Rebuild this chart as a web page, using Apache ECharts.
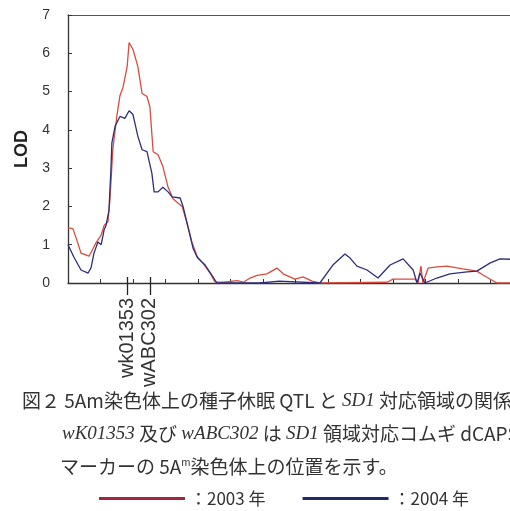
<!DOCTYPE html>
<html><head><meta charset="utf-8">
<script src="https://cdn.jsdelivr.net/npm/echarts@6/dist/echarts.min.js"></script>
<style>html,body{margin:0;padding:0;background:#fff}#c{width:510px;height:511px}</style>
</head><body><div id="c"></div>
<script>
// LOD curves (x = map position, arbitrary cM units)
const redX = [0,0.3,1.5,2.8,4,6.5,8.6,10.2,11.1,12.3,12.9,13.8,15.1,16,16.9,18.2,18.8,20,21.5,22.8,24.3,25.2,26.2,27.7,29.2,30.8,32.3,35.1,36.6,38.2,39.7,41.5,43.7,45.2,48,52,54,56,58.2,61.2,64.3,66.2,69.8,72.3,75.1,77.5,98.2,100,106.8,107.7,108.6,109.2,110.8,113.5,116.6,121.5,125.8,127.7,132,136];
const redLOD = [1.44,1.40,1.42,1.1,0.78,0.70,1.05,1.25,1.5,1.6,2.17,3.5,4.4,4.9,5.1,5.65,6.28,6.1,5.65,4.95,4.87,4.6,3.43,3.35,3.04,2.5,2.2,2.0,1.57,1.05,0.7,0.52,0.26,0.03,0.02,0.06,0.02,0.13,0.2,0.24,0.39,0.24,0.1,0.16,0.05,0,0.02,0.1,0.1,0,0.44,0,0.39,0.42,0.44,0.37,0.31,0.21,0,0];
const blueX = [0,1.8,4,6.2,7.1,8.0,9.2,10.2,10.8,11.1,11.7,12.6,13.2,13.5,14.5,16,17.5,18.8,20,21.5,22.8,24.3,25.8,26.5,27.7,29.2,30.8,32,34.5,35.4,36.9,38.5,39.9,42.2,44.3,45.8,59,59.1,65,65.1,77.5,81.5,85.2,86.8,88.9,92,95.4,99.1,103.1,106.2,107.4,108.3,109.8,113.5,117.5,122.8,125.8,129.8,132.9,136];
const blueLOD = [1.0,0.68,0.34,0.26,0.4,0.78,1.07,1.0,1.25,1.39,1.5,1.9,2.95,3.66,4.1,4.35,4.3,4.5,4.4,3.83,3.48,3.43,2.87,2.38,2.38,2.5,2.38,2.25,2.22,2.0,1.47,0.9,0.65,0.47,0.2,0,0,0.05,0.05,0,0,0.47,0.76,0.65,0.44,0.34,0.13,0.47,0.63,0.34,0,0.26,0,0.13,0.24,0.29,0.31,0.52,0.63,0.62];
const seriesNames = ['2003','2004'];
const markerPos = [18.2, 25.2];
const markerNames = ['wk01353','wABC302'];
const xMax = 136;

const pair = (xs, ys) => xs.map((x, i) => [x, ys[i]]);
const markerLabel = v => {
  const i = markerPos.findIndex(p => Math.abs(p - v) < 0.01);
  return i < 0 ? '' : markerNames[i];
};
const baseX = {type:'value', min:0, max:xMax, gridIndex:0, splitLine:{show:false}};
const chart = echarts.init(document.getElementById('c'), null, {renderer:'canvas'});
const capFont = '"Noto Sans CJK JP", "Noto Sans", sans-serif';
const serif = '"Liberation Serif", "DejaVu Serif", serif';
const capRich = {
  i:{fontFamily:serif, fontStyle:'italic', fontSize:19, fill:'#333'},
  s:{fontFamily:capFont, fontSize:10, fill:'#333', verticalAlign:'top', padding:[0,0,8,0]}
};
chart.setOption({
  animation:false,
  backgroundColor:'#fff',
  grid:{left:68, top:15, right:0, bottom:228, containLabel:false},
  xAxis:[
    Object.assign({}, baseX, {position:'bottom', interval:10,
      axisLine:{show:true, lineStyle:{color:'#333', width:1.3}},
      axisTick:{show:true, inside:true, length:4, lineStyle:{color:'#333'}},
      axisLabel:{show:false}}),
    Object.assign({}, baseX, {position:'top',
      axisLine:{show:true, lineStyle:{color:'#555', width:1}},
      axisTick:{show:false}, axisLabel:{show:false}}),
    Object.assign({}, baseX, {position:'bottom',
      axisLine:{show:false},
      axisTick:{show:true, inside:false, length:12, customValues:markerPos, lineStyle:{color:'#222', width:1.3}},
      axisLabel:{show:true, customValues:markerPos, rotate:90, margin:15, formatter:markerLabel,
        fontFamily:'"Liberation Sans", Arial, sans-serif', fontSize:20, color:'#333'}}),
    Object.assign({}, baseX, {position:'bottom',
      axisLine:{show:false},
      axisTick:{show:true, inside:true, length:6, customValues:markerPos, lineStyle:{color:'#222', width:1.3}},
      axisLabel:{show:false}})
  ],
  yAxis:{type:'value', min:0, max:7, interval:1,
    name:'LOD', nameLocation:'middle', nameGap:34,
    nameTextStyle:{fontFamily:'"Liberation Sans", Arial, sans-serif', fontSize:18, fontWeight:'bold', color:'#222'},
    axisLine:{show:true, lineStyle:{color:'#333', width:1.3}},
    axisTick:{show:true, inside:true, length:4, lineStyle:{color:'#333'}},
    axisLabel:{fontFamily:'"Liberation Sans", Arial, sans-serif', fontSize:14, color:'#333', margin:18},
    splitLine:{show:false}},
  legend:{
    left:99, top:490, itemWidth:86, itemHeight:3, itemGap:37, icon:'rect', padding:0,
    formatter:n => '：' + n + ' 年',
    textStyle:{fontFamily:capFont, fontSize:17, color:'#333', padding:[0,0,0,0]},
    data:[{name:seriesNames[0], itemStyle:{color:'#a6243f'}},{name:seriesNames[1], itemStyle:{color:'#1f2a6b'}}]
  },
  series:[
    {name:seriesNames[0], type:'line', xAxisIndex:0, data:pair(redX, redLOD), showSymbol:false, symbol:'none',
      lineStyle:{color:'#dc4b3e', width:1.3}, itemStyle:{color:'#dc4b3e'}},
    {name:seriesNames[1], type:'line', xAxisIndex:0, data:pair(blueX, blueLOD), showSymbol:false, symbol:'none',
      lineStyle:{color:'#2c2f7e', width:1.3}, itemStyle:{color:'#2c2f7e'}}
  ],
  graphic:[
    {type:'text', left:22, top:391, style:{text:'図２ 5Am染色体上の種子休眠 QTL と {i|SD1} 対応領域の関係',
      font:'19px ' + capFont, fill:'#333', rich:capRich}},
    {type:'text', left:62, top:424, style:{text:'{i|wK01353} 及び {i|wABC302} は {i|SD1} 領域対応コムギ dCAPS',
      font:'19px ' + capFont, fill:'#333', rich:capRich}},
    {type:'text', left:60, top:457, style:{text:'マーカーの 5A{s|m}染色体上の位置を示す。',
      font:'19px ' + capFont, fill:'#333', rich:capRich}}
  ]
});
</script>
</body></html>
